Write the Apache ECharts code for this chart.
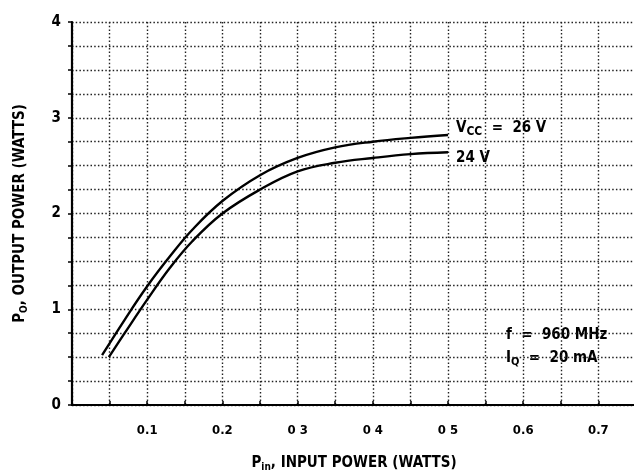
<!DOCTYPE html>
<html><head><meta charset="utf-8">
<script src="https://cdn.jsdelivr.net/npm/echarts@6/dist/echarts.min.js"></script>
<style>html,body{margin:0;padding:0;background:#fff}#c{width:634px;height:470px}</style>
</head><body><div id="c"></div>
<script>
// Data
const pin26 = [0.040, 0.070, 0.100, 0.130, 0.160, 0.200, 0.250, 0.300, 0.350, 0.400, 0.450, 0.500];
const pout26 = [0.52, 0.89, 1.24, 1.55, 1.83, 2.13, 2.40, 2.58, 2.69, 2.75, 2.79, 2.82];
const pin24 = [0.049, 0.070, 0.100, 0.130, 0.160, 0.200, 0.250, 0.300, 0.350, 0.400, 0.450, 0.500];
const pout24 = [0.50, 0.75, 1.10, 1.43, 1.71, 2.00, 2.25, 2.44, 2.53, 2.58, 2.62, 2.64];
const xTickLabels = ['0.1', '0.2', '0 3', '0 4', '0 5', '0.6', '0.7'];
const yTickLabels = ['0', '1', '2', '3', '4'];
const seriesNames = ['VCC = 26 V', '24 V'];

const FONT = '"DejaVu Sans Condensed", "Liberation Sans Narrow", "Arial Narrow", sans-serif';
const chart = echarts.init(document.getElementById('c'), null, {renderer: 'canvas'});
const gridLine = {show: true, lineStyle: {color: '#222', width: 1.4, type: [1.5, 2.2]}};
chart.setOption({
  animation: false,
  backgroundColor: '#fff',
  grid: {left: 72, right: -2, top: 22, bottom: 65, outerBoundsMode: 'none', containLabel: false},
  xAxis: [{
    type: 'value', min: 0, max: 0.75, interval: 0.05,
    axisLine: {show: true, onZero: false, lineStyle: {color: '#000', width: 2.2}},
    axisTick: {show: true, inside: true, length: 4, lineStyle: {color: '#000', width: 1.5}},
    splitLine: gridLine,
    axisLabel: {
      color: '#000', fontFamily: FONT, fontWeight: 'bold', fontSize: 13, margin: 19,
      formatter: function (v) {
        const k = Math.round(v * 100);
        if (k % 10 !== 0 || k === 0) return '';
        const i = k / 10 - 1;
        return xTickLabels[i] || '';
      }
    },
    name: 'P{s|in}, INPUT POWER (WATTS)', nameLocation: 'middle', nameGap: 50,
    nameTextStyle: {color: '#000', fontFamily: FONT, fontWeight: 'bold', fontSize: 15,
      rich: {s: {fontSize: 10, fontFamily: FONT, fontWeight: 'bold', color: '#000', padding: [7, 0, 0, 0]}}}
  }, {
    type: 'value', min: 0, max: 0.75, position: 'top',
    axisLine: {show: true, lineStyle: {color: '#000', width: 2.2}},
    axisTick: {show: false}, axisLabel: {show: false}, splitLine: {show: false}
  }],
  yAxis: {
    type: 'value', min: 0, max: 4, interval: 0.25,
    axisLine: {show: true, lineStyle: {color: '#000', width: 2.2}},
    axisTick: {show: true, length: 4, lineStyle: {color: '#000', width: 1.5}},
    splitLine: gridLine,
    axisLabel: {
      color: '#000', fontFamily: FONT, fontWeight: 'bold', fontSize: 15, margin: 11,
      formatter: function (v) {
        const k = Math.round(v * 100);
        if (k % 100 !== 0) return '';
        return yTickLabels[k / 100];
      }
    },
    name: 'P{s|O}, OUTPUT POWER (WATTS)', nameLocation: 'middle', nameGap: 43, nameRotate: 90,
    nameTextStyle: {color: '#000', fontFamily: FONT, fontWeight: 'bold', fontSize: 15,
      rich: {s: {fontSize: 10, fontFamily: FONT, fontWeight: 'bold', color: '#000', padding: [7, 0, 0, 0]}}}
  },
  series: [{
    name: seriesNames[0], type: 'line', smooth: 0.4, symbol: 'none',
    data: pin26.map((x, i) => [x, pout26[i]]),
    lineStyle: {color: '#000', width: 2.4},
    endLabel: {show: true, distance: 8, offset: [0, -7],
      formatter: 'V{s|CC}  =  26 V',
      color: '#000', fontFamily: FONT, fontWeight: 'bold', fontSize: 15,
      rich: {s: {fontSize: 12, fontFamily: FONT, fontWeight: 'bold', color: '#000', padding: [8, 0, 0, 0]}}}
  }, {
    name: seriesNames[1], type: 'line', smooth: 0.4, symbol: 'none',
    data: pin24.map((x, i) => [x, pout24[i]]),
    lineStyle: {color: '#000', width: 2.4},
    endLabel: {show: true, distance: 8, offset: [0, 6],
      formatter: '24 V',
      color: '#000', fontFamily: FONT, fontWeight: 'bold', fontSize: 15}
  }],
  graphic: [{
    type: 'text', left: 506, top: 328,
    style: {text: 'f  =  960 MHz', fill: '#000', font: 'bold 15px ' + FONT}
  }, {
    type: 'text', left: 506, top: 351,
    style: {text: 'I{s|Q}  =  20 mA', fill: '#000', font: 'bold 15px ' + FONT,
      rich: {s: {fontSize: 11, fontFamily: FONT, fontWeight: 'bold', fill: '#000', padding: [8, 0, 0, 0]}}}
  }]
});
</script>
</body></html>
